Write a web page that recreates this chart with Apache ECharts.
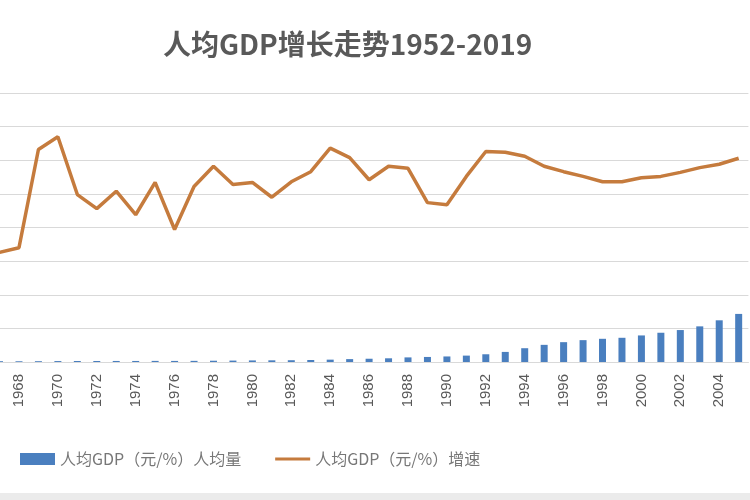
<!DOCTYPE html>
<html>
<head>
<meta charset="utf-8">
<script src="https://cdn.jsdelivr.net/npm/echarts@6/dist/echarts.min.js"></script>
<style>html,body{margin:0;padding:0;background:#fff}#c{width:750px;height:500px}</style>
</head>
<body>
<div id="c"></div>
<script>
const years = ['1967','1968','1969','1970','1971','1972','1973','1974','1975','1976','1977','1978','1979','1980','1981','1982','1983','1984','1985','1986','1987','1988','1989','1990','1991','1992','1993','1994','1995','1996','1997','1998','1999','2000','2001','2002','2003','2004','2005'];
const gdpPerCapita = [240,220,240,280,290,290,310,310,330,320,340,380,420,470,500,530,590,700,860,970,1100,1370,1500,1650,1900,2300,3000,4100,5100,5900,6500,6900,7200,7900,8700,9500,10600,12400,14300];
const growthRate = [-3.7,-3.0,11.6,13.5,4.9,2.8,5.4,1.9,6.7,-0.3,6.1,9.1,6.4,6.7,4.5,6.8,8.3,11.8,10.4,7.1,9.1,8.8,3.7,3.4,7.6,11.3,11.2,10.6,9.1,8.3,7.6,6.8,6.8,7.4,7.6,8.2,8.9,9.4,10.3];
const titleText = '人均GDP增长走势1952-2019';
const barName = '人均GDP（元/%）人均量';
const lineName = '人均GDP（元/%）增速';

const chart = echarts.init(document.getElementById('c'), null, {renderer: 'canvas'});
chart.setOption({
  animation: false,
  backgroundColor: '#ffffff',
  title: {
    text: titleText,
    left: 158, top: 25,
    textStyle: {fontFamily: 'Noto Sans CJK SC', fontWeight: 'bold', fontSize: 28, color: '#595959'}
  },
  legend: {
    left: 15, top: 446,
    itemWidth: 35, itemHeight: 12, itemGap: 34,
    textStyle: {fontFamily: 'Noto Sans CJK SC', fontSize: 16, color: '#777777'},
    data: [
      {name: barName, icon: 'rect'},
      {name: lineName, icon: 'path://M0,0 M0,4.5 L35,4.5 L35,7.5 L0,7.5 Z M35,12'}
    ]
  },
  grid: {left: -10.2, right: 1.6, top: 93, bottom: 138, containLabel: false, outerBoundsMode: 'none'},
  xAxis: {
    type: 'category',
    data: years,
    boundaryGap: true,
    axisLine: {lineStyle: {color: '#d9d9d9', width: 1}},
    axisTick: {show: false},
    axisLabel: {
      rotate: 90, margin: 12,
      interval: function (i, v) { return Number(v) % 2 === 0; },
      fontFamily: 'Liberation Sans', fontSize: 15, color: '#595959'
    }
  },
  yAxis: [
    {type: 'value', min: 0, max: 80000, interval: 10000,
     axisLabel: {show: false}, axisLine: {show: false}, axisTick: {show: false},
     splitLine: {lineStyle: {color: '#d9d9d9', width: 1.2}}},
    {type: 'value', min: -20, max: 20, interval: 5,
     axisLabel: {show: false}, axisLine: {show: false}, axisTick: {show: false},
     splitLine: {show: false}}
  ],
  series: [
    {name: barName, type: 'bar', data: gdpPerCapita, yAxisIndex: 0,
     barWidth: '36%', itemStyle: {color: '#4a7fbf'}},
    {name: lineName, type: 'line', data: growthRate, yAxisIndex: 1,
     symbol: 'none', smooth: false,
     lineStyle: {color: '#c57b3d', width: 3.5}, itemStyle: {color: '#c57b3d'}}
  ],
  graphic: [
    {type: 'rect', left: 0, bottom: 0, shape: {width: 750, height: 7}, style: {fill: '#ebebeb'}, silent: true}
  ]
});
</script>
</body>
</html>
